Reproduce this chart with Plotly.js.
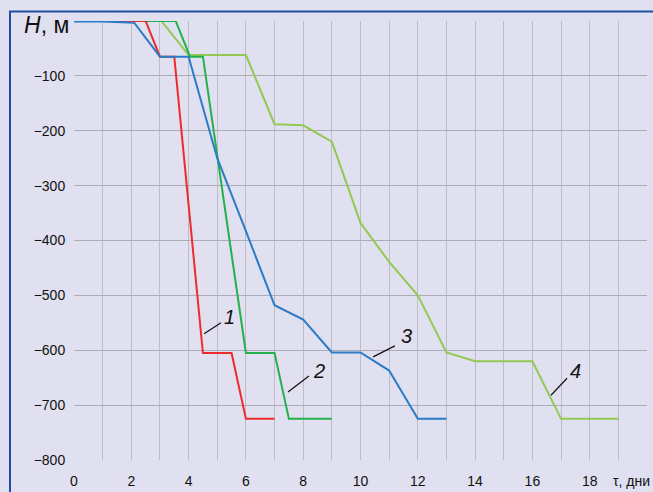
<!DOCTYPE html>
<html>
<head>
<meta charset="utf-8">
<script src="https://cdn.plot.ly/plotly-3.0.1.min.js"></script>
<style>
html,body{margin:0;padding:0;background:#E0E0F0;}
#chart{width:653px;height:492px;}
</style>
</head>
<body>
<div id="chart"></div>
<script>
// Curve 1 (red)
const t1 = [0, 2.5, 3.0, 3.5, 4.5, 5.5, 6.0, 7.0];
const h1 = [0, 0, -65, -65, -605, -605, -725, -725];
// Curve 2 (green)
const t2 = [0, 3.55, 4.05, 4.5, 6.0, 7.0, 7.5, 9.0];
const h2 = [0, 0, -65, -65, -605, -605, -725, -725];
// Curve 3 (blue)
const t3 = [0, 1.0, 2.1, 3.0, 4.0, 5.0, 6.0, 7.0, 8.0, 9.0, 10.0, 11.0, 12.0, 13.0];
const h3 = [-1, -1, -3, -65, -65, -250, -383, -518, -544, -604, -604, -637, -725, -725];
// Curve 4 (light green)
const t4 = [0, 3.05, 4.0, 6.0, 7.0, 8.0, 9.0, 10.0, 11.0, 12.0, 13.0, 14.0, 16.0, 17.0, 19.0];
const h4 = [0, 0, -62, -62, -188, -190, -220, -368, -439, -500, -604, -620, -620, -725, -725];

const curveNames = ['1', '2', '3', '4'];
const curveColors = ['#EE2B2B', '#22B14C', '#2B7BC6', '#93C852'];

// Label callouts: text position and leader line ends
const labelX = [5.44, 8.55, 11.59, 17.52];
const labelY = [-539, -638, -574, -638];
const leadX0 = [4.54, 7.47, 10.44, 16.65];
const leadY0 = [-570, -676, -612, -682];
const leadX1 = [5.13, 8.20, 11.20, 17.21];
const leadY1 = [-550, -647, -592, -651];

// Axis ticks
const xTickVals = [];
const xTickText = [];
for (let i = 0; i <= 20; i++) { xTickVals.push(i); xTickText.push(i % 2 === 0 && i < 20 ? String(i) : ''); }
const yTickVals = [-800, -700, -600, -500, -400, -300, -200, -100, 0];
const yTickText = ['\u2212800', '\u2212700', '\u2212600', '\u2212500', '\u2212400', '\u2212300', '\u2212200', '\u2212100', ''];

const series = [[t4, h4, 3], [t2, h2, 1], [t1, h1, 0], [t3, h3, 2]];
const traces = series.map(([x, y, k]) => ({
  x: x, y: y, type: 'scatter', mode: 'lines', name: curveNames[k],
  line: {color: curveColors[k], width: 2}, hoverinfo: 'skip'
}));

const shapes = [];
for (let i = 0; i < 4; i++) {
  shapes.push({type: 'line', xref: 'x', yref: 'y', x0: leadX0[i], y0: leadY0[i], x1: leadX1[i], y1: leadY1[i],
    line: {color: '#111', width: 1.2}});
}
// outer frame
shapes.push({type: 'rect', xref: 'paper', yref: 'paper', x0: -0.1117, x1: 1.2, y0: -0.3, y1: 1.0216,
  line: {color: '#1F4FA0', width: 2}, layer: 'below'});

const annotations = [];
for (let i = 0; i < 4; i++) {
  annotations.push({x: labelX[i], y: labelY[i], xref: 'x', yref: 'y', text: '<i>' + curveNames[i] + '</i>',
    showarrow: false, font: {family: 'Liberation Sans, Arial, sans-serif', size: 20, color: '#111'}});
}
annotations.push({x: -0.005, y: 0.99, xref: 'paper', yref: 'paper', xanchor: 'right', yanchor: 'middle',
  text: '<i>H</i>, м', showarrow: false, font: {family: 'Liberation Sans, Arial, sans-serif', size: 23, color: '#111'}});
annotations.push({x: 1.008, y: -0.048, xref: 'paper', yref: 'paper', xanchor: 'right', yanchor: 'middle',
  text: 'τ, дни', showarrow: false, font: {family: 'Liberation Sans, Arial, sans-serif', size: 14, color: '#111'}});

const layout = {
  width: 653, height: 492,
  margin: {l: 74, r: 6, t: 21, b: 32},
  paper_bgcolor: '#E0E0F0', plot_bgcolor: '#E0E0F0',
  showlegend: false,
  font: {family: 'Liberation Sans, Arial, sans-serif', size: 14, color: '#111'},
  xaxis: {range: [0, 20], tickvals: xTickVals, ticktext: xTickText, showgrid: true,
    gridcolor: '#BDBDC8', gridwidth: 1, zeroline: false, showline: false,
    ticks: 'outside', ticklen: 8, tickcolor: 'rgba(0,0,0,0)',
    tickfont: {size: 14, color: '#111'}},
  yaxis: {range: [-800, 0], tickvals: yTickVals, ticktext: yTickText, showgrid: true,
    gridcolor: '#ABABB2', gridwidth: 1, zeroline: false, showline: false,
    ticks: 'outside', ticklen: 5, tickcolor: 'rgba(0,0,0,0)',
    tickfont: {size: 14, color: '#111'}},
  shapes: shapes, annotations: annotations
};

Plotly.newPlot('chart', traces, layout, {displayModeBar: false, staticPlot: true});
</script>
</body>
</html>
